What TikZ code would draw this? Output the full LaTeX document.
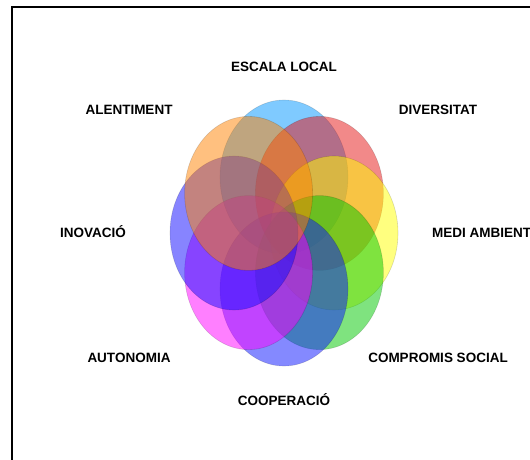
\documentclass[tikz,border=0pt]{standalone}
\usepackage{fontspec}
\setmainfont{Liberation Sans}

\definecolor{escalablue}{RGB}{0,150,255}
\definecolor{diversred}{RGB}{230,20,20}
\definecolor{medyellow}{RGB}{255,255,0}
\definecolor{socialgreen}{RGB}{0,200,0}
\definecolor{coopblue}{RGB}{10,20,255}
\definecolor{automagenta}{RGB}{255,0,255}
\definecolor{inoviolet}{RGB}{15,10,255}
\definecolor{alentorange}{RGB}{255,130,0}

\begin{document}
\begin{tikzpicture}[x=1pt, y=1pt,
        petal/.style={fill opacity=0.5, draw=black, draw opacity=0.15, line width=0.6},
        lbl/.style={font=\bfseries\fontsize{13.5}{16}\selectfont, inner sep=0pt, anchor=base}]
        \useasboundingbox (0,0) rectangle (530,459);
        \draw [black, line width=1.8] (12,-1) -- (12,451.7) -- (531,451.7);

        % petals, clockwise from the top
        \filldraw [petal, fill=escalablue] (284,282) ellipse [x radius=64, y radius=77];
        \filldraw [petal, fill=diversred] (319.4,265.6) ellipse [x radius=64, y radius=77];
        \filldraw [petal, fill=medyellow] (334,226) ellipse [x radius=64, y radius=77];
        \filldraw [petal, fill=socialgreen] (319.4,186.4) ellipse [x radius=64, y radius=77];
        \filldraw [petal, fill=coopblue] (284,170) ellipse [x radius=64, y radius=77];
        \filldraw [petal, fill=automagenta] (248.6,186.4) ellipse [x radius=64, y radius=77];
        \filldraw [petal, fill=inoviolet] (234,226) ellipse [x radius=64, y radius=77];
        \filldraw [petal, fill=alentorange] (248.6,265.6) ellipse [x radius=64, y radius=77];

        \node[lbl] (escala) at (284, 387.2) {ESCALA LOCAL};
        \node[lbl] (alentiment) at (129, 344.2) {ALENTIMENT};
        \node[lbl] (diversitat) at (438, 344.2) {DIVERSITAT};
        \node[lbl] (inovacio) at (93, 221.2) {INOVACIÓ};
        \node[lbl, anchor=base west] (medi) at (432, 221.2) {MEDI AMBIENT};
        \node[lbl] (autonomia) at (129, 96.2) {AUTONOMIA};
        \node[lbl] (compromis) at (438, 96.2) {COMPROMIS SOCIAL};
        \node[lbl] (cooperacio) at (284, 53.2) {COOPERACIÓ};
\end{tikzpicture}
\end{document}
